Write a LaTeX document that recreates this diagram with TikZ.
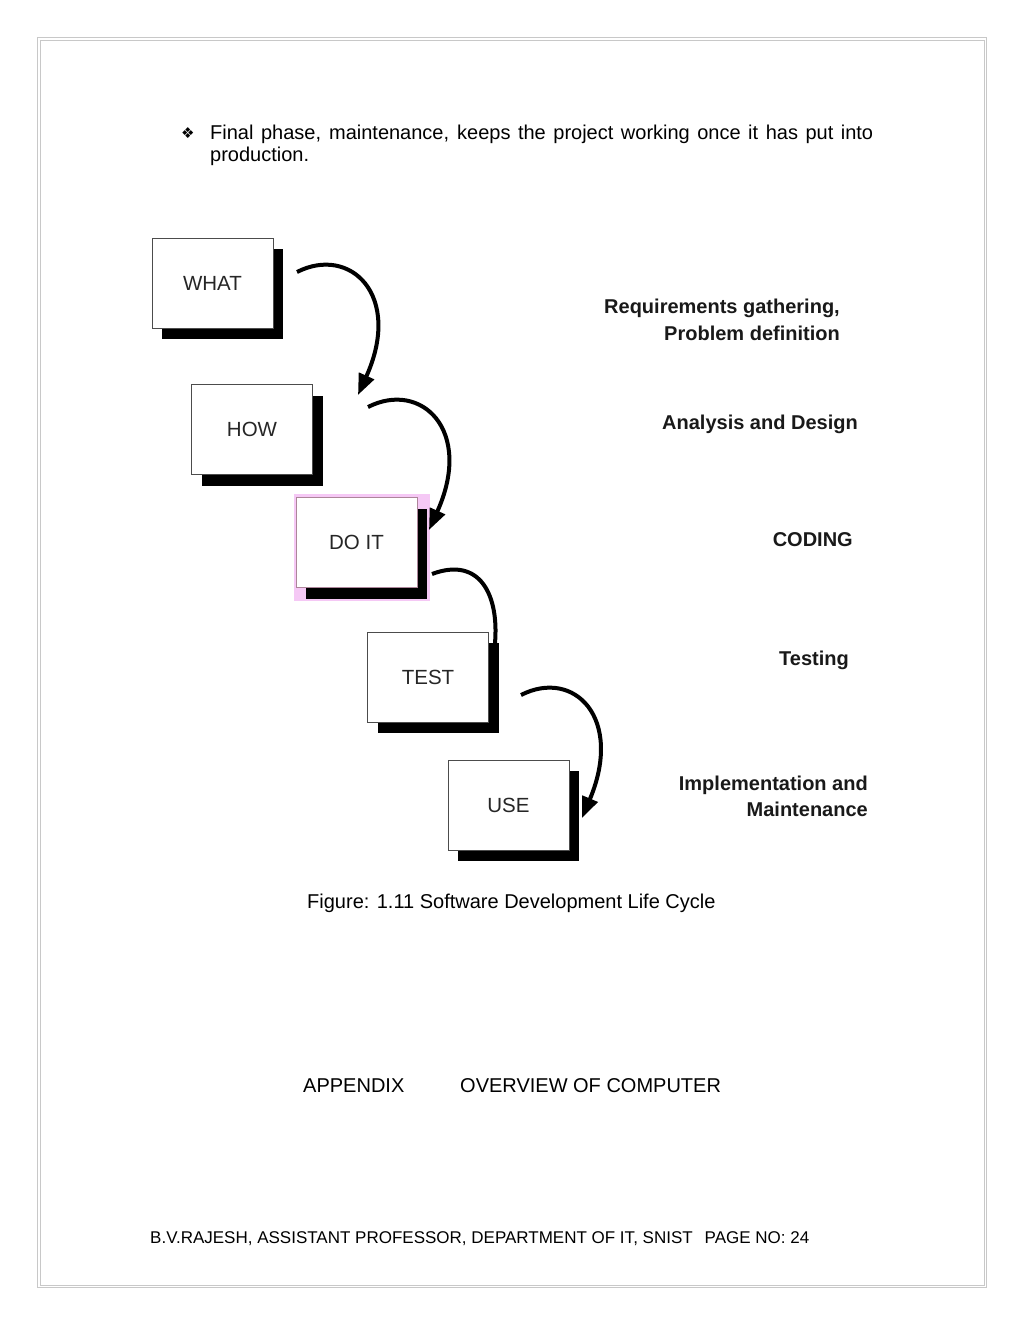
\documentclass[tikz,border=0pt]{standalone}
\usepackage{fontspec}
\setmainfont{Liberation Sans}
\newfontfamily\dingfont{DejaVu Sans}
\usetikzlibrary{arrows.meta,shadows,calc}
\definecolor{pagegray}{RGB}{200,200,200}
\definecolor{hilite}{RGB}{245,200,245}
\begin{document}
\begin{tikzpicture}[x=1pt,y=-1pt,
  stagebox/.style={draw=black!70, line width=0.8pt, fill=white, minimum width=121pt, minimum height=90pt, inner sep=0pt,
    font=\fontsize{20.5}{24}\selectfont, text=black!85,
    drop shadow={shadow xshift=10pt, shadow yshift=-11pt, fill=black, opacity=1}},
  flow/.style={line width=4pt, -{Triangle[length=21pt,width=16pt]}},
  flowplain/.style={line width=4pt},
  phase/.style={font=\bfseries\fontsize{20}{24}\selectfont, anchor=base east, inner sep=0pt, text=black!90},
  body/.style={font=\fontsize{20}{22}\selectfont, anchor=base west, inner sep=0pt}]
\fill[white] (0,0) rectangle (1024,1326);
\useasboundingbox (0,0) rectangle (1024,1326);
% page border (double)
\draw[pagegray, line width=1pt] (37.5,37.5) rectangle (986.5,1287);
\draw[pagegray, line width=1pt] (40,40) rectangle (984,1285);

% body text
\node[body, anchor=base west] (bul) at (181,138) {\dingfont\fontsize{15}{16}\selectfont ❖};
\node[body] (l1) at (210,139) {\makebox[663pt][s]{Final phase, maintenance, keeps the project working once it has put into}};
\node[body] (l2) at (210,161) {production.};

% highlight behind DO IT
\fill[hilite] (294,494) rectangle (430,601);

% boxes
\node[stagebox] (what) at (212.5,283) {WHAT};
\node[stagebox] (how) at (252,429.5) {HOW};
\node[stagebox, draw=black!60!magenta!60] (doit) at (356.5,542.5) {DO IT};
\node[stagebox] (test) at (428,677) {TEST};
\node[stagebox] (use) at (508.5,805) {USE};

% connector end points
\coordinate (a1s) at (297,272); \coordinate (a1e) at (358,395);
\coordinate (a2s) at (368,407); \coordinate (a2e) at (429,530);
\coordinate (a3s) at (432,574); \coordinate (a3e) at (495,643);
\coordinate (a4s) at (521,695); \coordinate (a4e) at (582,818);

\draw[flow] (a1s) .. controls +(53,-27) and +(45,-100) .. (a1e);
\draw[flow] (a2s) .. controls +(53,-27) and +(45,-100) .. (a2e);
\draw[flowplain] (a3s) .. controls +(48,-18) and +(4,-48) .. (a3e);
\draw[flow] (a4s) .. controls +(53,-27) and +(42,-100) .. (a4e);

% phase labels
\node[phase] (p1a) at (840,313) {Requirements gathering,};
\node[phase] (p1b) at (840,340) {Problem definition};
\node[phase] (p2) at (858,429) {Analysis and Design};
\node[phase] (p3) at (853,546) {CODING};
\node[phase] (p4) at (849,665) {Testing};
\node[phase] (p5a) at (868,790) {Implementation and};
\node[phase] (p5b) at (868,816) {Maintenance};

% caption and other text
\node[body] (cap) at (307,908) {Figure: 1.11 Software Development Life Cycle};
\node[body] (app) at (303,1092) {APPENDIX};
\node[body] (ovw) at (460,1092) {OVERVIEW OF COMPUTER};
\node[body, font=\fontsize{17}{18}\selectfont] (foot) at (150,1243) {B.V.RAJESH, ASSISTANT PROFESSOR, DEPARTMENT OF IT, SNIST\hspace{12pt}PAGE NO: 24};
\end{tikzpicture}
\end{document}
